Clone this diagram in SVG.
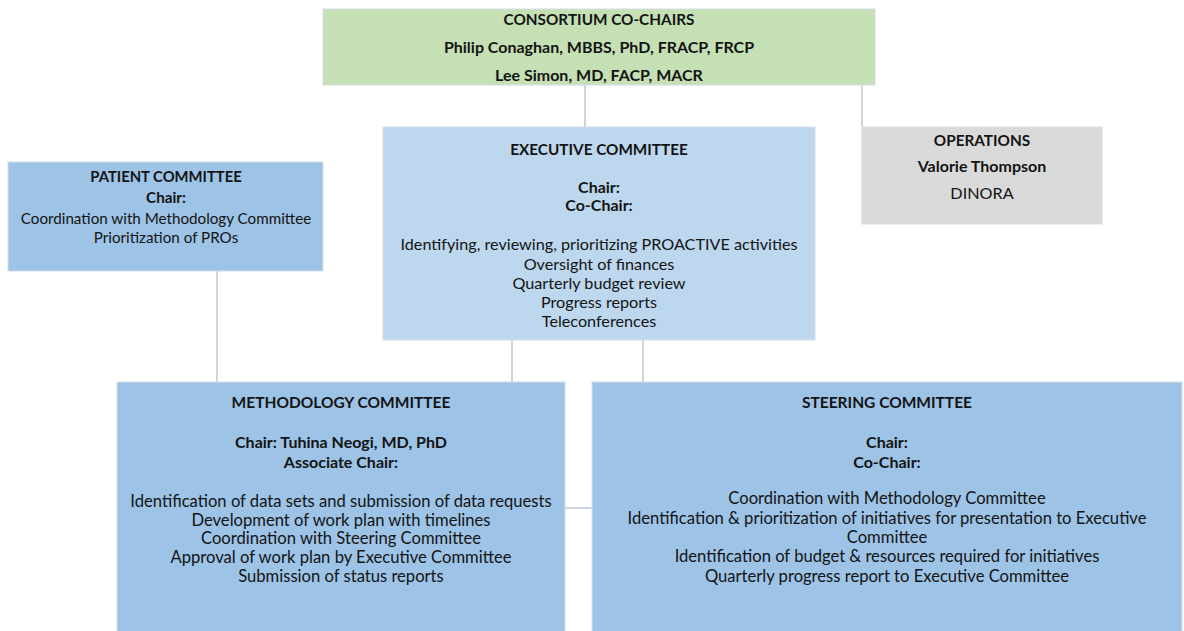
<svg xmlns="http://www.w3.org/2000/svg" width="1184" height="631" viewBox="0 0 1184 631">
  <style>
    .box { stroke: #d6dde6; stroke-width: 1; }
    .green { fill: #c5e0b4; }
    .light { fill: #bdd7ee; }
    .blue { fill: #9dc3e6; }
    .grey { fill: #dadada; }
    text { font-family: Lato, "Open Sans", "Liberation Sans", sans-serif; font-size: 16.2px; fill: #141414; text-anchor: middle; }
    .b { font-weight: bold; font-size: 16px; }
    .h { font-weight: bold; font-size: 15.3px; }
    #patient-committee text { font-size: 15.2px; }
    #patient-committee .h { font-size: 14.8px; }
    #methodology-committee text, #steering-committee text { font-size: 16.6px; }
    #methodology-committee .b, #steering-committee .b { font-size: 16px; }
    #methodology-committee .h, #steering-committee .h { font-size: 15.5px; }
    .link { stroke: #aab8c9; stroke-width: 1.2; fill: none; }
  </style>
  <rect width="1184" height="631" fill="#ffffff"/>

  <g id="connectors">
    <line class="link" x1="585" y1="85" x2="585" y2="127"/>
    <line class="link" x1="862" y1="85" x2="862" y2="127"/>
    <line class="link" x1="217" y1="271" x2="217" y2="382"/>
    <line class="link" x1="512" y1="340" x2="512" y2="382"/>
    <line class="link" x1="643" y1="340" x2="643" y2="382"/>
    <line class="link" x1="565" y1="508" x2="592" y2="508"/>
  </g>

  <g id="co-chairs">
    <rect class="box green" x="323" y="9" width="552" height="76"/>
    <text class="h" x="599" y="25">CONSORTIUM CO-CHAIRS</text>
    <text class="b" x="599" y="53">Philip Conaghan, MBBS, PhD, FRACP, FRCP</text>
    <text class="b" x="599" y="81">Lee Simon, MD, FACP, MACR</text>
  </g>

  <g id="operations">
    <rect class="box grey" x="862" y="127" width="240" height="97"/>
    <text class="h" x="982" y="146">OPERATIONS</text>
    <text class="b" x="982" y="172">Valorie Thompson</text>
    <text x="982" y="199">DINORA</text>
  </g>

  <g id="patient-committee">
    <rect class="box blue" x="8" y="162" width="315" height="109"/>
    <text class="h" x="166" y="182">PATIENT COMMITTEE</text>
    <text class="b" x="166" y="203">Chair:</text>
    <text x="166" y="224">Coordination with Methodology Committee</text>
    <text x="166" y="243">Prioritization of PROs</text>
  </g>

  <g id="executive-committee">
    <rect class="box light" x="383" y="127" width="432" height="213"/>
    <text class="h" x="599" y="155">EXECUTIVE COMMITTEE</text>
    <text class="b" x="599" y="193">Chair:</text>
    <text class="b" x="599" y="211">Co-Chair:</text>
    <text x="599" y="250">Identifying, reviewing, prioritizing PROACTIVE activities</text>
    <text x="599" y="270">Oversight of finances</text>
    <text x="599" y="289">Quarterly budget review</text>
    <text x="599" y="308">Progress reports</text>
    <text x="599" y="327">Teleconferences</text>
  </g>

  <g id="methodology-committee">
    <rect class="box blue" x="117" y="382" width="448" height="260"/>
    <text class="h" x="341" y="408">METHODOLOGY COMMITTEE</text>
    <text class="b" x="341" y="448">Chair: Tuhina Neogi, MD, PhD</text>
    <text class="b" x="341" y="468">Associate Chair:</text>
    <text x="341" y="507">Identification of data sets and submission of data requests</text>
    <text x="341" y="526">Development of work plan with timelines</text>
    <text x="341" y="544">Coordination with Steering Committee</text>
    <text x="341" y="563">Approval of work plan by Executive Committee</text>
    <text x="341" y="582">Submission of status reports</text>
  </g>

  <g id="steering-committee">
    <rect class="box blue" x="592" y="382" width="590" height="260"/>
    <text class="h" x="887" y="408">STEERING COMMITTEE</text>
    <text class="b" x="887" y="448">Chair:</text>
    <text class="b" x="887" y="468">Co-Chair:</text>
    <text x="887" y="504">Coordination with Methodology Committee</text>
    <text x="887" y="524">Identification &amp; prioritization of initiatives for presentation to Executive</text>
    <text x="887" y="543">Committee</text>
    <text x="887" y="562">Identification of budget &amp; resources required for initiatives</text>
    <text x="887" y="582">Quarterly progress report to Executive Committee</text>
  </g>
</svg>
